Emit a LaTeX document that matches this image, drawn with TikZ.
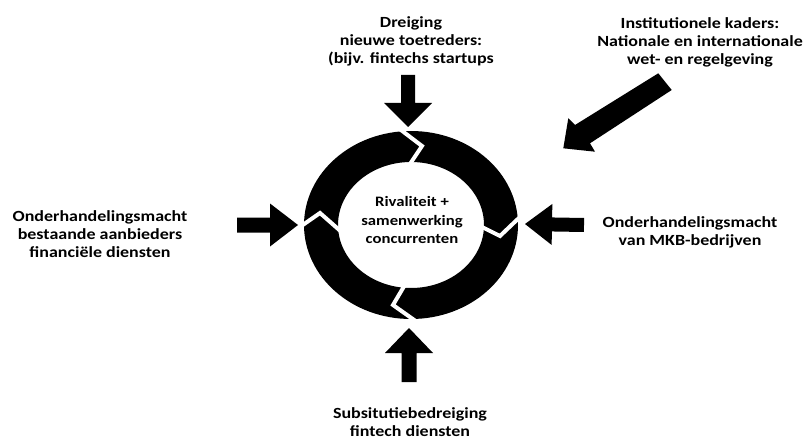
\documentclass[tikz,border=0pt]{standalone}
\usepackage{fontspec}
\setmainfont{Carlito}
\usetikzlibrary{calc}
\tikzset{
  lbl/.style={align=center, inner sep=0pt, font=\fontsize{15.5}{18}\selectfont\bfseries, xscale=1.16},
  ctr/.style={align=center, inner sep=0pt, font=\fontsize{14.4}{18.5}\selectfont\bfseries, xscale=1.16},
  gapline/.style={draw=white, line width=4pt, line join=miter, line cap=butt},
  ringfill/.style={fill=black, even odd rule}
}
\newcommand\barrow[5]{% tail, tip, head length, shaft half width, head half width
  \coordinate (bb) at ($(#2)!#3!(#1)$);
  \fill ($(#1)!#4!90:(#2)$) -- ($(bb)!#4!90:(#2)$) -- ($(bb)!#5!90:(#2)$) -- (#2)
     -- ($(bb)!#5!-90:(#2)$) -- ($(bb)!#4!-90:(#2)$) -- ($(#1)!#4!-90:(#2)$) -- cycle;
}
\begin{document}
\begin{tikzpicture}[x=1pt,y=-1pt]
\useasboundingbox (0,0) rectangle (806,441);
% ring
\coordinate (c) at (411,225);
\fill[ringfill] (c) ellipse [x radius=107pt, y radius=94pt] (c) ellipse [x radius=73pt, y radius=63pt];
% chevron gaps
\draw[gapline] (397,127) -- (422,146) -- (408,167);
\draw[gapline] (521,216) -- (500,236) -- (480,226);
\draw[gapline] (417,322) -- (393,305) -- (406,283);
\draw[gapline] (297,229) -- (320,213) -- (345,235);
% text
\node[ctr] (rival) at (412,220) {Rivaliteit +\\samenwerking\\concurrenten};
\node[lbl] (top) at (411,41) {Dreiging\\nieuwe toetreders:\\(bijv. fintechs startups};
\node[lbl] (inst) at (700,42) {Institutionele kaders:\\Nationale en internationale\\wet- en regelgeving};
\node[lbl] (left) at (100,234) {Onderhandelingsmacht\\bestaande aanbieders\\financi\"ele diensten};
\node[lbl] (right) at (690,232) {Onderhandelingsmacht\\van MKB-bedrijven};
\node[lbl] (bottom) at (410,422) {Subsitutiebedreiging\\fintech diensten};
% arrows
\coordinate (tT) at (408,75);  \coordinate (tP) at (408,127);
\coordinate (bT) at (409,382); \coordinate (bP) at (409,328);
\coordinate (lT) at (237,225); \coordinate (lP) at (298,225);
\coordinate (rT) at (584,225); \coordinate (rP) at (525,224);
\barrow{tT}{tP}{24pt}{7pt}{24pt}
\barrow{bT}{bP}{25pt}{7.5pt}{24pt}
\barrow{lT}{lP}{28pt}{7.5pt}{21.5pt}
\barrow{rT}{rP}{27pt}{7pt}{20.5pt}
% diagonal arrow
\coordinate (dA) at (658.3,73.3);
\coordinate (dB) at (671.7,90);
\coordinate (dC) at (590,143.3);
\coordinate (dD) at (595,151.7);
\coordinate (dP) at (563.3,148.3);
\coordinate (dE) at (568.3,118.3);
\coordinate (dF) at (575,125);
\fill (dA) -- (dB) -- (dC) -- (dD) -- (dP) -- (dE) -- (dF) -- cycle;
\end{tikzpicture}
\end{document}
